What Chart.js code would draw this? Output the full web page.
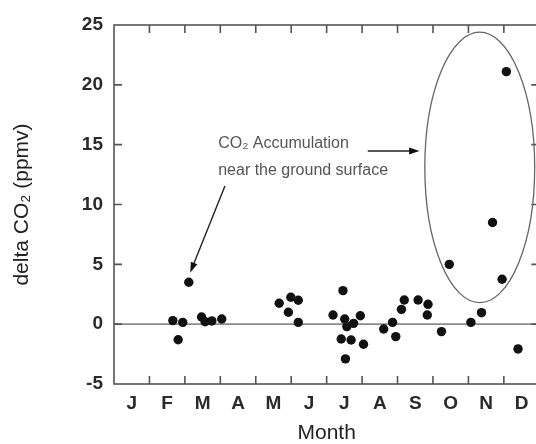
<!DOCTYPE html>
<html>
<head>
<meta charset="utf-8">
<script src="https://cdn.jsdelivr.net/npm/chart.js@4.4.1/dist/chart.umd.min.js"></script>
<style>
  html, body { margin: 0; padding: 0; background: #fff; overflow: hidden; }
</style>
</head>
<body>
<canvas id="co2Chart" width="544" height="444"></canvas>
<script>
/* TICK LABELS */
const monthLabels = ['J', 'F', 'M', 'A', 'M', 'J', 'J', 'A', 'S', 'O', 'N', 'D'];
const yTickValues = [-5, 0, 5, 10, 15, 20, 25];

/* DATA: position in months (0 = start of Jan) and delta CO2 (ppmv) */
const monthPos = [
  1.66, 1.81, 1.94, 2.11,
  2.47, 2.57, 2.76, 3.04,
  4.66, 4.92, 4.99, 5.20, 5.20,
  6.18, 6.41, 6.46, 6.51, 6.53, 6.57, 6.69, 6.76, 6.95, 7.04,
  7.61, 7.86, 7.95, 8.11, 8.19, 8.58, 8.84, 8.86, 9.24,
  9.46, 10.07, 10.37, 10.68, 10.95, 11.07, 11.40
];
const deltaCO2 = [
  0.3, -1.3, 0.15, 3.5,
  0.6, 0.2, 0.27, 0.43,
  1.75, 1.0, 2.25, 2.0, 0.15,
  0.77, -1.24, 2.8, 0.43, -2.9, -0.2, -1.32, 0.07, 0.7, -1.68,
  -0.4, 0.15, -1.04, 1.24, 2.02, 2.02, 0.77, 1.66, -0.62,
  5.0, 0.15, 0.96, 8.5, 3.75, 21.1, -2.07
];

/* ANNOTATION (in data units) */
const noteLines = ['CO\u2082 Accumulation', 'near the ground surface'];
const noteAt = [2.94, 15.1];
const ellipseAt = { x: 10.32, y: 13.1, rx: 1.55, ry: 11.3 };

var points = monthPos.map(function (m, i) { return { x: m, y: deltaCO2[i] }; });

function arrow(ctx, x1, y1, x2, y2) {
  var a = Math.atan2(y2 - y1, x2 - x1);
  var head = 11, wide = 0.32;
  ctx.beginPath();
  ctx.moveTo(x1, y1);
  ctx.lineTo(x2 - Math.cos(a) * head * 0.8, y2 - Math.sin(a) * head * 0.8);
  ctx.stroke();
  ctx.beginPath();
  ctx.moveTo(x2, y2);
  ctx.lineTo(x2 - head * Math.cos(a - wide), y2 - head * Math.sin(a - wide));
  ctx.lineTo(x2 - head * Math.cos(a + wide), y2 - head * Math.sin(a + wide));
  ctx.closePath();
  ctx.fill();
}

/* FRAME, INWARD TICKS, ZERO LINE */
const framePlugin = {
  id: 'frame',
  beforeDatasetsDraw: function (chart) {
    var ctx = chart.ctx, a = chart.chartArea, y = chart.scales.y;
    ctx.save();
    ctx.strokeStyle = '#8a8a8a';
    ctx.lineWidth = 1.6;
    ctx.beginPath();
    ctx.moveTo(a.left, y.getPixelForValue(0));
    ctx.lineTo(a.right, y.getPixelForValue(0));
    ctx.stroke();
    ctx.restore();
  },
  afterDatasetsDraw: function (chart) {
    var ctx = chart.ctx, a = chart.chartArea, x = chart.scales.x, y = chart.scales.y;
    var tl = 8;
    ctx.save();
    ctx.strokeStyle = '#555';
    ctx.lineWidth = 1.6;
    ctx.strokeRect(a.left, a.top, a.right - a.left, a.bottom - a.top);
    ctx.beginPath();
    for (var m = 1; m < monthLabels.length; m++) {
      var px = x.getPixelForValue(m);
      ctx.moveTo(px, a.top); ctx.lineTo(px, a.top + tl);
      ctx.moveTo(px, a.bottom); ctx.lineTo(px, a.bottom - tl);
    }
    yTickValues.slice(1, -1).forEach(function (v) {
      var py = y.getPixelForValue(v);
      ctx.moveTo(a.left, py); ctx.lineTo(a.left + tl, py);
      ctx.moveTo(a.right, py); ctx.lineTo(a.right - tl, py);
    });
    ctx.stroke();

    /* ellipse round the winter points */
    ctx.strokeStyle = '#666';
    ctx.lineWidth = 1.3;
    var cx = x.getPixelForValue(ellipseAt.x), cy = y.getPixelForValue(ellipseAt.y);
    var rx = x.getPixelForValue(ellipseAt.x + ellipseAt.rx) - cx;
    var ry = cy - y.getPixelForValue(ellipseAt.y + ellipseAt.ry);
    ctx.beginPath();
    ctx.ellipse(cx, cy, rx, ry, 0, 0, Math.PI * 2);
    ctx.stroke();

    /* note text */
    ctx.fillStyle = '#555';
    ctx.font = '16px "Liberation Sans", Arial, sans-serif';
    ctx.textBaseline = 'middle';
    ctx.textAlign = 'left';
    var tx = x.getPixelForValue(noteAt[0]), ty = y.getPixelForValue(noteAt[1]);
    noteLines.forEach(function (line, i) { ctx.fillText(line, tx, ty + i * 27); });

    /* arrows */
    ctx.strokeStyle = '#222';
    ctx.fillStyle = '#111';
    ctx.lineWidth = 1.4;
    arrow(ctx, x.getPixelForValue(7.16), y.getPixelForValue(14.47),
               x.getPixelForValue(8.62), y.getPixelForValue(14.47));
    arrow(ctx, x.getPixelForValue(3.13), y.getPixelForValue(11.55),
               x.getPixelForValue(2.15), y.getPixelForValue(4.3));
    ctx.restore();
  }
};

var tickFont = { family: '"Liberation Sans", Arial, sans-serif', size: 19, weight: 'bold' };
var titleFont = { family: '"Liberation Sans", Arial, sans-serif', size: 21, lineHeight: 1 };

new Chart(document.getElementById('co2Chart').getContext('2d'), {
  type: 'scatter',
  data: {
    datasets: [{
      data: points,
      backgroundColor: '#111',
      borderWidth: 0,
      pointRadius: 4.7
    }]
  },
  options: {
    responsive: false,
    animation: false,
    events: [],
    layout: { padding: { top: 25, right: 2, left: 0, bottom: 0 } },
    plugins: { legend: { display: false }, tooltip: { enabled: false } },
    scales: {
      x: {
        type: 'linear',
        min: 0,
        max: 12,
        grid: { display: false, drawTicks: false },
        border: { display: false },
        afterBuildTicks: function (scale) {
          scale.ticks = monthLabels.map(function (l, i) { return { value: i + 0.5 }; });
        },
        afterFit: function (scale) { scale.height = 60; },
        ticks: {
          autoSkip: false,
          maxRotation: 0,
          padding: 8,
          color: '#2a2a2a',
          font: tickFont,
          callback: function (v, i) { return monthLabels[i]; }
        },
        title: {
          display: true,
          text: 'Month',
          color: '#222',
          font: titleFont,
          padding: { top: 0, bottom: 0 }
        }
      },
      y: {
        min: -5,
        max: 25,
        grid: { display: false, drawTicks: false },
        border: { display: false },
        afterFit: function (scale) { scale.width = 114; },
        ticks: {
          stepSize: 5,
          padding: 11,
          color: '#2a2a2a',
          font: tickFont
        },
        title: {
          display: true,
          text: 'delta CO\u2082 (ppmv)',
          color: '#222',
          font: titleFont,
          padding: { top: 12, bottom: 0 }
        }
      }
    }
  },
  plugins: [framePlugin]
});
</script>
</body>
</html>
